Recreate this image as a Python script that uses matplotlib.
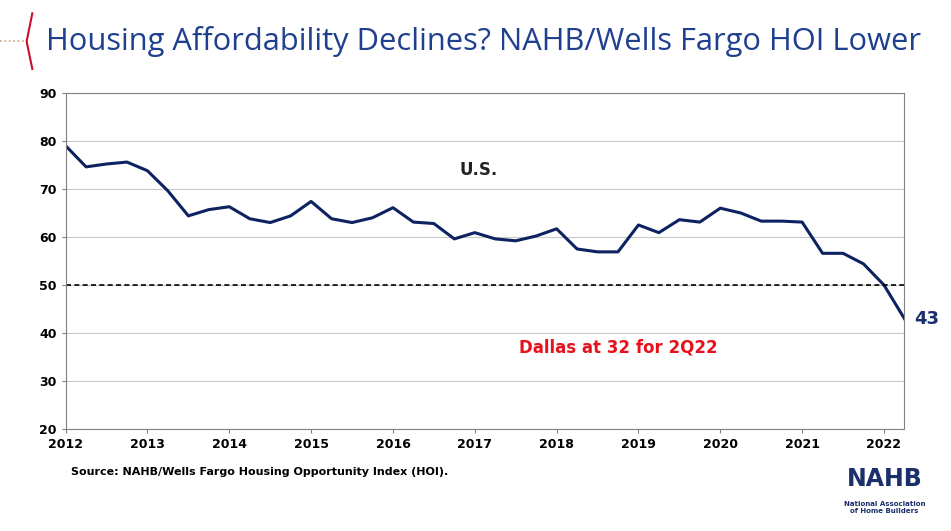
import matplotlib
matplotlib.use("Agg")
import matplotlib.pyplot as plt
import numpy as np

years = [2012,2013,2014,2015,2016,2017,2018,2019,2020,2021,2022]
hoi = [79,74.6,75.2,75.6,73.8,69.6,64.4,65.7,66.3,63.8,63,64.4,67.4,63.8,63,64,66.1,63.1,62.8,59.6,
       60.9,59.6,59.2,60.2,61.7,57.5,56.9,56.9,62.5,60.9,63.6,63.1,66,65,63.3,63.3,63.1,56.6,56.6,54.4,50,43]
t = 2012 + np.arange(len(hoi))*0.25

fig = plt.figure(figsize=(9.51,5.31), dpi=100)
ax = fig.add_axes([0.069,0.192,0.882,0.633])
ax.plot(t, hoi, color="#0d2260", lw=2.2)
ax.axhline(50, color="black", ls="--", lw=1.2, dashes=(3,2))
ax.set_xlim(2012, t[-1]); ax.set_ylim(20,90)
ax.set_yticks(range(20,91,10)); ax.set_xticks(years)
ax.grid(axis="y", color="#c8c8c8", lw=0.8)
ax.set_axisbelow(True)
for s in ax.spines.values(): s.set_color("#808080"); s.set_linewidth(0.8)
ax.tick_params(labelsize=9, length=3, color="#808080")
for l in ax.get_xticklabels()+ax.get_yticklabels(): l.set_fontweight("bold")
ax.text(2017.05, 73, "U.S.", fontsize=12, fontweight="bold", color="#222222", ha="center")
ax.text(2018.75, 36, "Dallas at 32 for 2Q22", fontsize=12, fontweight="bold", color="#e8101a", ha="center")
ax.text(t[-1]+0.12, 43, "43", fontsize=13, fontweight="bold", color="#1a2f6b", va="center", ha="left", clip_on=False)

fig.text(0.048, 0.922, "Housing Affordability Declines? NAHB/Wells Fargo HOI Lower", fontsize=22.2,
         color="#1f3f8f", family="Open Sans", va="center")
fig.add_artist(plt.Line2D([0.034,0.028,0.034],[0.975,0.922,0.87], color="#c8102e", lw=1.5, transform=fig.transFigure))
fig.add_artist(plt.Line2D([0.0,0.027],[0.922,0.922], color="#d0a080", lw=1.2, ls=":", transform=fig.transFigure))
fig.text(0.075, 0.105, "Source: NAHB/Wells Fargo Housing Opportunity Index (HOI).", fontsize=8, fontweight="bold")
fig.text(0.93, 0.085, "NAHB", fontsize=17, fontweight="bold", color="#1a2f6b", ha="center")
fig.text(0.93, 0.045, "National Association\nof Home Builders", fontsize=5, fontweight="bold", color="#1a2f6b", ha="center", va="center")
fig.savefig("out.png", dpi=100)
